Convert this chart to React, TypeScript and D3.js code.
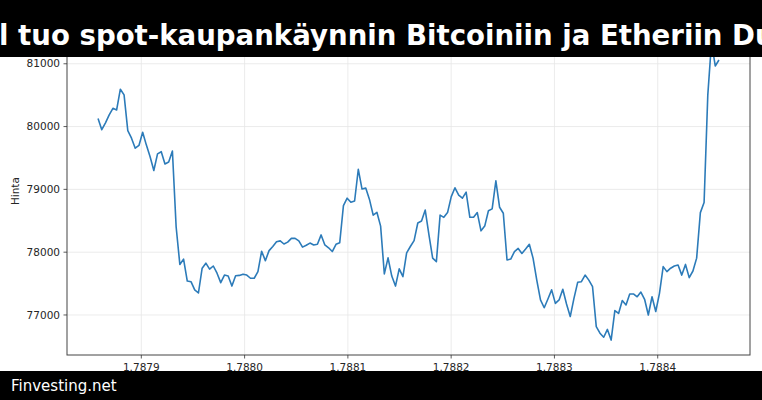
import React from "react";
import * as d3 from "d3";

// Hourly prices, first sample time in seconds
const startTime = 1787858100;
const stepSeconds = 3600;
const prices: number[] = [
  80130, 79950, 80060, 80185, 80290, 80265, 80595, 80505, 79935, 79815,
  79655, 79700, 79910, 79705, 79520, 79300, 79565, 79600, 79405, 79435,
  79610, 78405, 77805, 77890, 77540, 77530, 77400, 77350, 77745, 77825,
  77730, 77780, 77665, 77515, 77635, 77620, 77460, 77625, 77630, 77650,
  77635, 77585, 77585, 77690, 78015, 77865, 78025, 78090, 78165, 78180,
  78130, 78160, 78220, 78220, 78180, 78080, 78110, 78145, 78115, 78125,
  78275, 78115, 78070, 78010, 78125, 78150, 78740, 78860, 78795, 78815,
  79320, 79005, 79020, 78840, 78590, 78635, 78415, 77655, 77910, 77620,
  77460, 77735, 77610, 77990, 78090, 78185, 78465, 78495, 78670, 78275,
  77905, 77850, 78590, 78555, 78630, 78885, 79025, 78910, 78860, 78955,
  78555, 78555, 78630, 78340, 78415, 78660, 78690, 79135, 78715, 78620,
  77875, 77890, 78010, 78060, 77980, 78050, 78125, 77905, 77555, 77240,
  77115, 77255, 77400, 77185, 77240, 77410, 77175, 76975, 77265, 77520,
  77530, 77635, 77555, 77450, 76815, 76710, 76645, 76770, 76600, 77070,
  77025, 77230, 77160, 77335, 77335, 77290, 77365, 77250, 77000, 77290,
  77055, 77345, 77770, 77690, 77745, 77780, 77795, 77635, 77805, 77595,
  77700, 77905, 78630, 78790, 80505, 81345, 80965, 81060,
];
const xTickValues: number[] = [1.7879e9, 1.788e9, 1.7881e9, 1.7882e9, 1.7883e9, 1.7884e9];
const yTickValues: number[] = [77000, 78000, 79000, 80000, 81000];
const titleText = "l tuo spot-kaupankäynnin Bitcoiniin ja Etheriin Du";
const footerText = "Finvesting.net";
const yLabel = "Hinta";

const W = 762;
const H = 400;
const plot = { left: 67, right: 750, top: 27.2, bottom: 355 };

export default function App() {
  const data = prices.map((v, i) => ({ t: startTime + i * stepSeconds, v }));
  const [t0, t1] = d3.extent(data, (d) => d.t) as [number, number];
  const [v0, v1] = d3.extent(data, (d) => d.v) as [number, number];
  const tp = (t1 - t0) * 0.05;
  const vp = (v1 - v0) * 0.05;
  const x = d3.scaleLinear().domain([t0 - tp, t1 + tp]).range([plot.left, plot.right]);
  const y = d3.scaleLinear().domain([v0 - vp, v1 + vp]).range([plot.bottom, plot.top]);
  const line = d3
    .line<{ t: number; v: number }>()
    .x((d) => x(d.t))
    .y((d) => y(d.v));

  const font = "DejaVu Sans, sans-serif";
  const tickColor = "#333";

  return (
    <svg
      width={W}
      height={H}
      viewBox={`0 0 ${W} ${H}`}
      style={{ position: "absolute", left: 0, top: 0, background: "#fff" }}
    >
      <defs>
        <clipPath id="plotclip">
          <rect x={plot.left} y={plot.top} width={plot.right - plot.left} height={plot.bottom - plot.top} />
        </clipPath>
      </defs>
      <rect x={0} y={0} width={W} height={H} fill="#fff" />
      {/* grid */}
      {yTickValues.map((v) => (
        <line key={"gy" + v} x1={plot.left} x2={plot.right} y1={y(v)} y2={y(v)} stroke="#e6e6e6" strokeWidth={0.8} />
      ))}
      {xTickValues.map((t) => (
        <line key={"gx" + t} x1={x(t)} x2={x(t)} y1={plot.top} y2={plot.bottom} stroke="#e6e6e6" strokeWidth={0.8} />
      ))}
      {/* series */}
      <path d={line(data) || ""} fill="none" stroke="#2c7bb9" strokeWidth={1.6} strokeLinejoin="round" clipPath="url(#plotclip)" />
      {/* spines */}
      <rect
        x={plot.left}
        y={plot.top}
        width={plot.right - plot.left}
        height={plot.bottom - plot.top}
        fill="none"
        stroke="#444"
        strokeWidth={1}
      />
      {/* y ticks */}
      {yTickValues.map((v) => (
        <g key={"ty" + v}>
          <line x1={plot.left - 3.5} x2={plot.left} y1={y(v)} y2={y(v)} stroke={tickColor} strokeWidth={0.8} />
          <text
            x={plot.left - 7}
            y={y(v)}
            dy="0.35em"
            textAnchor="end"
            fontFamily={font}
            fontSize={10.5}
            fill="#262626"
          >
            {d3.format("d")(v)}
          </text>
        </g>
      ))}
      {/* x ticks */}
      {xTickValues.map((t) => (
        <g key={"tx" + t}>
          <line x1={x(t)} x2={x(t)} y1={plot.bottom} y2={plot.bottom + 3.5} stroke={tickColor} strokeWidth={0.8} />
          <text
            x={x(t)}
            y={plot.bottom + 16}
            textAnchor="middle"
            fontFamily={font}
            fontSize={10.5}
            fill="#262626"
          >
            {(t / 1e9).toFixed(4)}
          </text>
        </g>
      ))}
      <text
        transform={`translate(${19},${(plot.top + plot.bottom) / 2}) rotate(-90)`}
        textAnchor="middle"
        fontFamily={font}
        fontSize={10.5}
        fill="#262626"
      >
        {yLabel}
      </text>
      {/* title bar */}
      <rect x={0} y={0} width={W} height={57} fill="#000" />
      <text x={-1} y={45} fontFamily={font} fontWeight="bold" fontSize={27.6} fill="#fff">
        {titleText}
      </text>
      {/* footer bar */}
      <rect x={0} y={371} width={W} height={29} fill="#000" />
      <text x={11} y={391} fontFamily={font} fontSize={15} fill="#fff">
        {footerText}
      </text>
    </svg>
  );
}
